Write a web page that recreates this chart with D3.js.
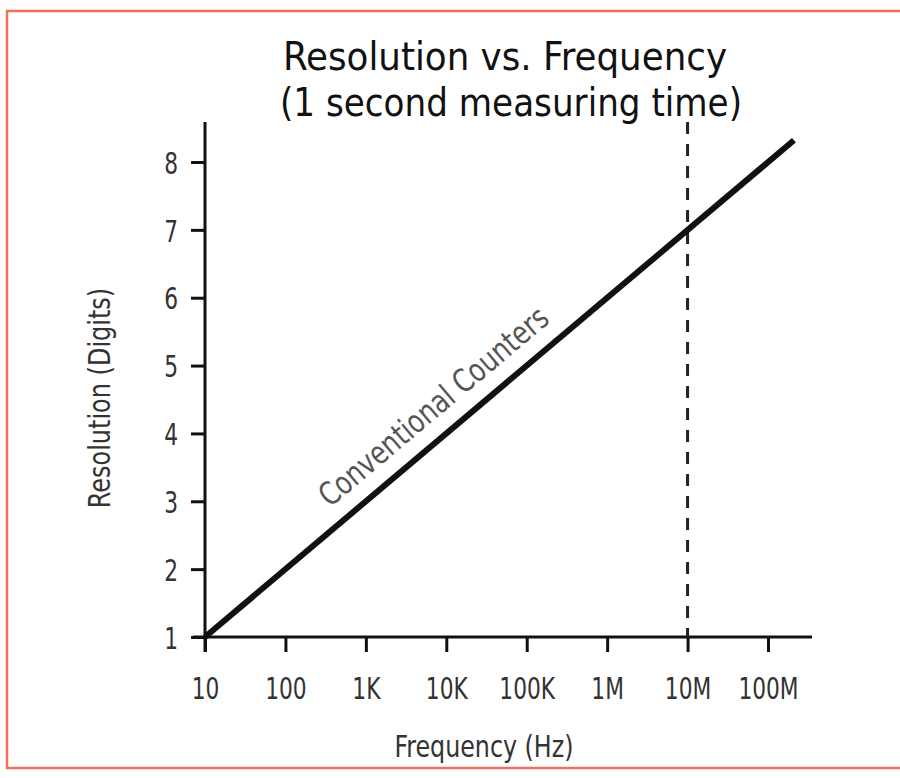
<!DOCTYPE html>
<html>
<head>
<meta charset="utf-8">
<script src="https://cdn.jsdelivr.net/npm/d3@7"></script>
<style>
  html, body { margin: 0; padding: 0; background: #fff; }
  svg text { font-family: "Liberation Sans Narrow", "DejaVu Sans Condensed", "Roboto", sans-serif; }
</style>
</head>
<body>
<div id="chart"></div>
<script>
// frequency decades on the x axis (Hz) and their labels
const freqTicks = [10, 100, 1e3, 1e4, 1e5, 1e6, 1e7, 1e8];
const freqLabels = ["10", "100", "1K", "10K", "100K", "1M", "10M", "100M"];
// resolution ticks (digits)
const digitTicks = [1, 2, 3, 4, 5, 6, 7, 8];
// conventional counter line: one digit per decade
const counterFreq = [10, 2.1e8];
const counterDigits = [1, 8.32];
// dashed marker at 10 MHz
const markerFreq = 1e7;

const width = 900, height = 778;
const squeeze = 0.78; // the original type is a tall condensed face

const svg = d3.select("#chart")
  .append("svg")
  .attr("width", width)
  .attr("height", height);

// frame
svg.append("rect")
  .attr("x", 7).attr("y", 11)
  .attr("width", 900).attr("height", 757)
  .attr("fill", "none")
  .attr("stroke", "#f0705e")
  .attr("stroke-width", 2.5);

const x = d3.scaleLog()
  .domain([10, 1e8])
  .range([205, 768]);

const y = d3.scaleLinear()
  .domain([1, 8])
  .range([637, 162]);

// title
const title = svg.append("text")
  .attr("text-anchor", "middle")
  .attr("fill", "#111")
  .style("font-size", "39px");
title.append("tspan").attr("x", 505).attr("y", 70)
  .attr("textLength", 444).attr("lengthAdjust", "spacingAndGlyphs")
  .text("Resolution vs. Frequency");
title.append("tspan").attr("x", 511).attr("y", 116)
  .attr("textLength", 462).attr("lengthAdjust", "spacingAndGlyphs")
  .text("(1 second measuring time)");

// x axis
const xAxis = svg.append("g")
  .attr("transform", `translate(0,${y(1)})`)
  .call(d3.axisBottom(x)
    .tickValues(freqTicks)
    .tickFormat((d, i) => freqLabels[i])
    .tickSize(15)
    .tickSizeOuter(0)
    .tickPadding(25));
xAxis.select(".domain").remove();
xAxis.append("line")
  .attr("x1", 193).attr("x2", 812)
  .attr("stroke", "#111").attr("stroke-width", 3);
xAxis.selectAll(".tick line").attr("stroke", "#111").attr("stroke-width", 3);
xAxis.selectAll(".tick text")
  .attr("fill", "#333")
  .attr("transform", `scale(${squeeze},1)`)
  .style("font-size", "31px");

// y axis
const yAxis = svg.append("g")
  .attr("transform", `translate(${x(10)},0)`)
  .call(d3.axisLeft(y)
    .tickValues(digitTicks)
    .tickFormat(d3.format("d"))
    .tickSize(14)
    .tickSizeOuter(0));
yAxis.select(".domain").remove();
yAxis.append("line")
  .attr("y1", 122).attr("y2", 652)
  .attr("stroke", "#111").attr("stroke-width", 3);
yAxis.selectAll(".tick line").attr("stroke", "#111").attr("stroke-width", 3);
yAxis.selectAll(".tick text")
  .attr("fill", "#333")
  .attr("x", -27 / squeeze)
  .attr("dy", "0.36em")
  .attr("transform", `scale(${squeeze},1)`)
  .style("font-size", "31px");

// axis titles
svg.append("text")
  .attr("transform", "translate(484,757) scale(0.88,1)")
  .attr("text-anchor", "middle")
  .attr("fill", "#333")
  .style("font-size", "30px")
  .text("Frequency (Hz)");

svg.append("text")
  .attr("transform", "translate(110,398) rotate(-90) scale(0.86,1)")
  .attr("text-anchor", "middle")
  .attr("fill", "#333")
  .style("font-size", "31px")
  .text("Resolution (Digits)");

// dashed 10 MHz marker
svg.append("line")
  .attr("x1", x(markerFreq)).attr("x2", x(markerFreq))
  .attr("y1", 122).attr("y2", y(1))
  .attr("stroke", "#222")
  .attr("stroke-width", 3)
  .attr("stroke-dasharray", "12,10");

// counter line
const line = d3.line()
  .x((d, i) => x(counterFreq[i]))
  .y(d => y(d));

svg.append("path")
  .datum(counterDigits)
  .attr("fill", "none")
  .attr("stroke", "#111")
  .attr("stroke-width", 6)
  .attr("d", line);

// label along the line
const angle = Math.atan2(y(5) - y(4), x(1e5) - x(1e4)) * 180 / Math.PI;
svg.append("text")
  .attr("transform", `translate(433,406) rotate(${angle}) scale(0.88,1)`)
  .attr("text-anchor", "middle")
  .attr("dy", "0.36em")
  .attr("fill", "#555")
  .style("font-size", "32px")
  .text("Conventional Counters");
</script>
</body>
</html>
